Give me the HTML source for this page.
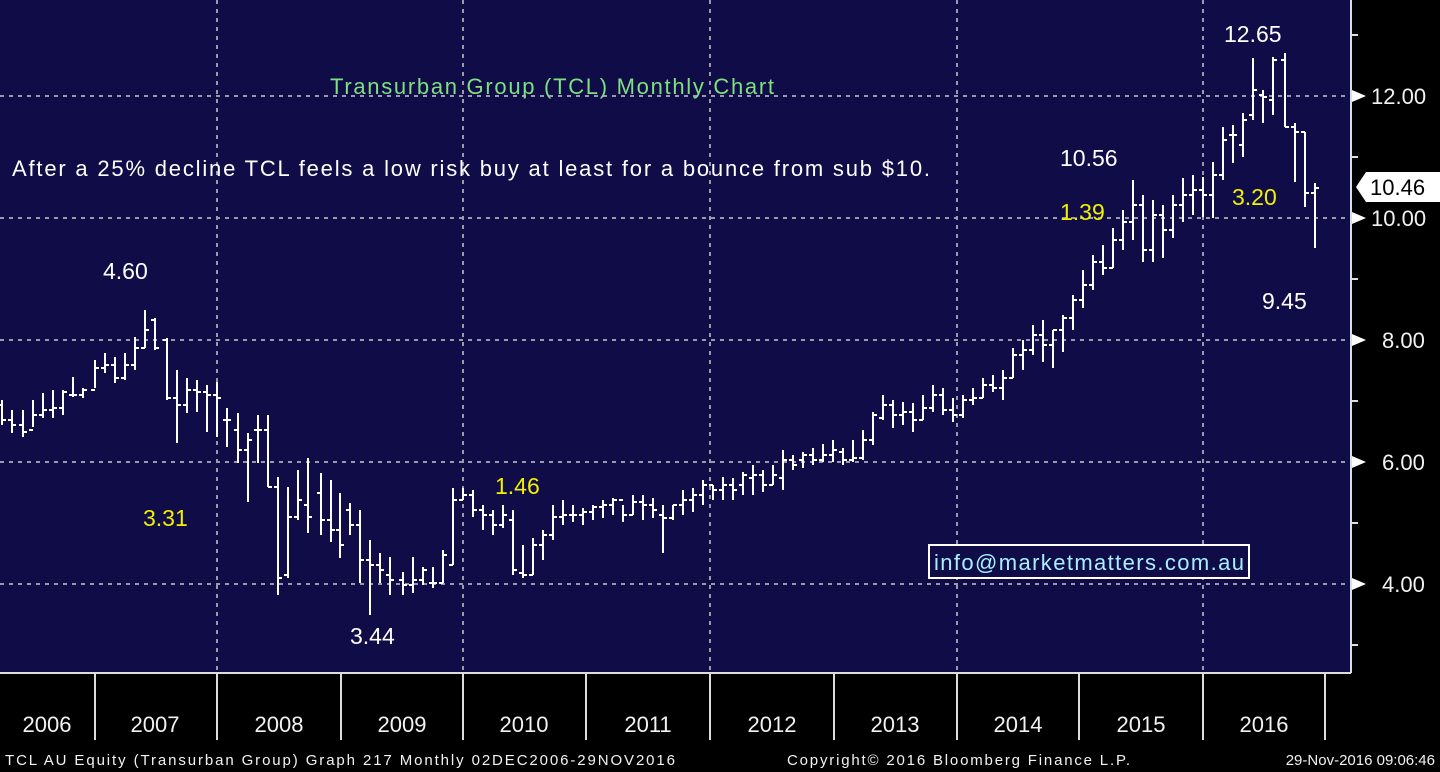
<!DOCTYPE html>
<html><head><meta charset="utf-8"><style>
html,body{margin:0;padding:0;background:#000;}
svg{display:block;font-family:"Liberation Sans",sans-serif;}
</style></head><body>
<svg width="1440" height="772" xmlns="http://www.w3.org/2000/svg">
<rect x="0" y="0" width="1440" height="772" fill="#000"/>
<rect x="0" y="0" width="1350" height="673" fill="#100c48"/>
<g stroke="#9a9aa8" stroke-width="2" stroke-dasharray="4,5">
<line x1="0" y1="96" x2="1350" y2="96"/><line x1="0" y1="218" x2="1350" y2="218"/>
<line x1="0" y1="340" x2="1350" y2="340"/><line x1="0" y1="462" x2="1350" y2="462"/>
<line x1="0" y1="584" x2="1350" y2="584"/>
<line x1="217" y1="0" x2="217" y2="673"/><line x1="463" y1="0" x2="463" y2="673"/>
<line x1="710" y1="0" x2="710" y2="673"/><line x1="957" y1="0" x2="957" y2="673"/>
<line x1="1203" y1="0" x2="1203" y2="673"/>
</g>
<path stroke="#fff" stroke-width="2" fill="none" d="
M2 400V425M-2 405H2M2 420H6
M12 410V433M8 420H12M12 425H16
M23 410V437M19 425H23M23 432H27
M33 400V427M29 430H33M33 415H37
M43 393V418M39 415H43M43 410H47
M53 390V418M49 410H53M53 408H57
M63 390V415M59 408H63M63 392H67
M73 377V397M69 395H73M73 395H77
M83 388V398M79 395H83M83 390H87
M95 360V388M91 390H95M95 368H99
M105 353V373M101 368H105M105 365H109
M115 357V383M111 365H115M115 378H119
M125 353V380M121 378H125M125 365H129
M135 337V370M131 365H135M135 348H139
M145 310V348M141 348H145M145 330H149
M155 318V350M151 320H155M155 348H159
M167 338V400M163 340H167M167 398H171
M177 370V443M173 398H177M177 405H181
M187 378V413M183 405H187M187 390H191
M197 380V412M193 390H197M197 392H201
M207 385V432M203 392H207M207 395H211
M217 382V437M213 395H217M217 398H221
M227 408V447M223 420H227M227 420H231
M238 413V463M234 430H238M238 450H242
M248 433V502M244 450H248M248 440H252
M258 415V463M254 430H258M258 430H262
M268 415V487M264 430H268M268 487H272
M278 477V595M274 487H278M278 578H282
M288 487V578M284 575H288M288 517H292
M298 470V520M294 517H298M298 500H302
M308 458V533M304 505H308M308 517H312
M321 473V535M317 493H321M321 520H325
M331 480V542M327 520H331M331 530H335
M340 493V558M336 530H340M340 545H344
M350 503V535M346 510H350M350 525H354
M360 510V583M356 525H360M360 560H364
M370 540V615M366 560H370M370 565H374
M380 553V583M376 565H380M380 570H384
M390 557V595M386 575H390M390 580H394
M403 572V595M399 580H403M403 585H407
M413 557V593M409 585H413M413 580H417
M423 567V585M419 580H423M423 570H427
M433 567V588M429 583H433M433 583H437
M443 550V583M439 583H443M443 555H447
M453 488V565M449 565H453M453 500H457
M463 488V500M459 500H463M463 495H467
M473 490V517M469 495H473M473 510H477
M483 505V530M479 510H483M483 515H487
M493 510V535M489 515H493M493 525H497
M503 505V528M499 525H503M503 515H507
M513 510V575M509 520H513M513 570H517
M523 545V578M519 573H523M523 575H527
M533 538V575M529 575H533M533 545H537
M543 530V560M539 545H543M543 535H547
M553 505V540M549 535H553M553 517H557
M563 500V525M559 517H563M563 515H567
M573 505V522M569 515H573M573 515H577
M583 508V525M579 515H583M583 512H587
M593 505V520M589 512H593M593 507H597
M603 500V518M599 507H603M603 505H607
M613 498V515M609 505H613M613 500H617
M623 505V522M619 500H623M623 515H627
M633 495V515M629 515H633M633 502H637
M643 495V520M639 502H643M643 505H647
M653 498V518M649 505H653M653 510H657
M663 505V553M659 515H663M663 518H667
M673 505V520M669 518H673M673 505H677
M683 490V515M679 505H683M683 500H687
M693 488V512M689 500H693M693 495H697
M703 480V505M699 495H703M703 485H707
M713 485V500M709 485H713M713 490H717
M723 477V500M719 490H723M723 485H727
M733 478V500M729 485H733M733 490H737
M743 472V495M739 485H743M743 475H747
M753 465V495M749 478H753M753 475H757
M763 470V492M759 475H763M763 485H767
M773 465V485M769 485H773M773 475H777
M783 450V490M779 478H783M783 460H787
M793 455V470M789 460H793M793 465H797
M803 452V468M799 460H803M803 455H807
M813 448V465M809 455H813M813 460H817
M823 444V462M819 460H823M823 455H827
M833 440V462M829 455H833M833 450H837
M843 448V465M839 452H843M843 460H847
M853 440V462M849 460H853M853 458H857
M863 430V460M859 458H863M863 440H867
M873 412V445M869 440H873M873 415H877
M883 395V420M879 418H883M883 405H887
M893 400V428M889 405H893M893 415H897
M903 402V425M899 415H903M903 412H907
M913 403V432M909 412H913M913 420H917
M923 395V420M919 420H923M923 408H927
M933 385V412M929 408H933M933 395H937
M943 388V415M939 395H943M943 410H947
M953 398V422M949 410H953M953 415H957
M963 395V418M959 415H963M963 400H967
M973 388V405M969 400H973M973 398H977
M983 378V398M979 398H983M983 385H987
M993 375V392M989 385H993M993 388H997
M1003 370V400M999 388H1003M1003 378H1007
M1013 348V378M1009 378H1013M1013 355H1017
M1023 340V370M1019 355H1023M1023 350H1027
M1033 325V355M1029 350H1033M1033 335H1037
M1043 320V362M1039 335H1043M1043 345H1047
M1053 330V368M1049 345H1053M1053 330H1057
M1063 315V352M1059 330H1063M1063 318H1067
M1073 295V330M1069 318H1073M1073 300H1077
M1083 270V308M1079 300H1083M1083 285H1087
M1093 255V290M1089 285H1093M1093 262H1097
M1103 245V275M1099 262H1103M1103 268H1107
M1113 228V268M1109 268H1113M1113 240H1117
M1123 210V250M1119 240H1123M1123 222H1127
M1133 180V240M1129 222H1133M1133 205H1137
M1143 195V262M1139 205H1143M1143 250H1147
M1153 200V262M1149 250H1153M1153 215H1157
M1163 205V258M1159 215H1163M1163 230H1167
M1173 195V238M1169 230H1173M1173 205H1177
M1183 178V222M1179 205H1183M1183 195H1187
M1193 175V215M1189 195H1193M1193 190H1197
M1203 177V217M1199 190H1203M1203 195H1207
M1213 162V218M1209 195H1213M1213 175H1217
M1223 127V180M1219 175H1223M1223 140H1227
M1233 125V163M1229 135H1233M1233 135H1237
M1243 113V157M1239 145H1243M1243 120H1247
M1253 58V120M1249 115H1253M1253 90H1257
M1263 90V123M1259 95H1263M1263 97H1267
M1273 57V115M1269 100H1273M1273 60H1277
M1285 53V127M1281 60H1285M1285 127H1289
M1295 123V182M1291 127H1295M1295 132H1299
M1305 132V207M1301 132H1305M1305 193H1309
M1315 183V248M1311 193H1315M1315 188H1319"/>
<line x1="0" y1="673" x2="1351" y2="673" stroke="#ddd" stroke-width="2"/>
<line x1="1351" y1="0" x2="1351" y2="673" stroke="#ddd" stroke-width="2"/>
<g stroke="#ddd" stroke-width="2">
<line x1="95" y1="673" x2="95" y2="740"/><line x1="217" y1="673" x2="217" y2="740"/>
<line x1="341" y1="673" x2="341" y2="740"/><line x1="463" y1="673" x2="463" y2="740"/>
<line x1="586" y1="673" x2="586" y2="740"/><line x1="710" y1="673" x2="710" y2="740"/>
<line x1="834" y1="673" x2="834" y2="740"/><line x1="957" y1="673" x2="957" y2="740"/>
<line x1="1079" y1="673" x2="1079" y2="740"/><line x1="1203" y1="673" x2="1203" y2="740"/>
<line x1="1325" y1="673" x2="1325" y2="740"/>
<line x1="1351" y1="35" x2="1358" y2="35"/><line x1="1351" y1="157" x2="1358" y2="157"/>
<line x1="1351" y1="279" x2="1358" y2="279"/><line x1="1351" y1="401" x2="1358" y2="401"/>
<line x1="1351" y1="523" x2="1358" y2="523"/><line x1="1351" y1="645" x2="1358" y2="645"/>
</g>
<g fill="#fff">
<polygon points="1352,90 1366,96 1352,102"/><polygon points="1352,212 1366,218 1352,224"/>
<polygon points="1352,334 1366,340 1352,346"/><polygon points="1352,456 1366,462 1352,468"/>
<polygon points="1352,578 1366,584 1352,590"/>
<polygon points="1356,187 1366,172 1440,172 1440,202 1366,202"/>
</g>
<g fill="#f2f2f2" font-size="22">
<text x="1371" y="104">12.00</text><text x="1371" y="226">10.00</text>
<text x="1382" y="348">8.00</text><text x="1382" y="470">6.00</text><text x="1382" y="592">4.00</text>
</g>
<text x="1370" y="195" font-size="22" fill="#000">10.46</text>
<g fill="#f2f2f2" font-size="22" text-anchor="middle">
<text x="47" y="732">2006</text><text x="155" y="732">2007</text><text x="279" y="732">2008</text>
<text x="402" y="732">2009</text><text x="524" y="732">2010</text><text x="648" y="732">2011</text>
<text x="772" y="732">2012</text><text x="895" y="732">2013</text><text x="1018" y="732">2014</text>
<text x="1141" y="732">2015</text><text x="1264" y="732">2016</text>
</g>
<g fill="#f2f2f2" font-size="15">
<text x="5" y="765" textLength="670">TCL AU Equity (Transurban Group) Graph 217  Monthly 02DEC2006-29NOV2016</text>
<text x="787" y="765" textLength="343">Copyright© 2016 Bloomberg Finance L.P.</text>
<text x="1435" y="765" text-anchor="end">29-Nov-2016 09:06:46</text>
</g>
<text x="330" y="94" font-size="22" fill="#7fe07f" textLength="444">Transurban Group (TCL) Monthly Chart</text>
<text x="12" y="176" font-size="22" fill="#fff" textLength="918">After a 25% decline TCL feels a low risk buy at least for a bounce from sub $10.</text>
<g font-size="23" fill="#fff">
<text x="103" y="279">4.60</text><text x="350" y="644">3.44</text><text x="1060" y="166">10.56</text>
<text x="1224" y="42">12.65</text><text x="1262" y="309">9.45</text>
</g>
<g font-size="23" fill="#f0f000">
<text x="143" y="526">3.31</text><text x="495" y="494">1.46</text><text x="1060" y="220">1.39</text><text x="1232" y="205">3.20</text>
</g>
<rect x="929" y="545" width="320" height="33" fill="#100c48" stroke="#fff" stroke-width="2"/>
<text x="934" y="570" font-size="22" fill="#a8f0ff" textLength="310">info@marketmatters.com.au</text>
</svg>
</body></html>
